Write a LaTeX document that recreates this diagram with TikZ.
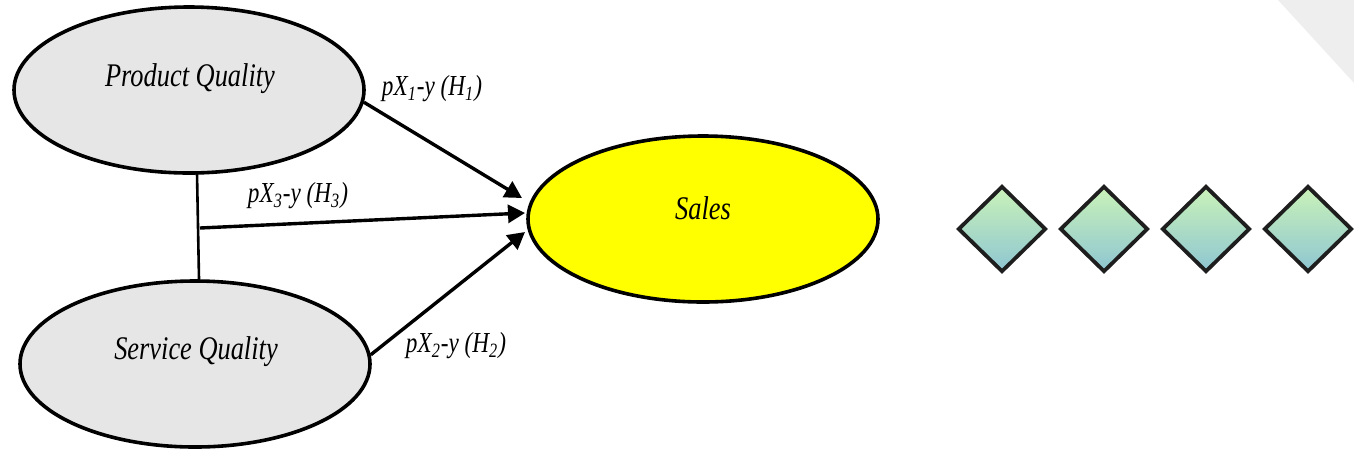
\documentclass[tikz,border=0pt]{standalone}
\usepackage{fontspec}
\setmainfont{Liberation Serif}
\newfontfamily\refit[FakeStretch=0.8]{Liberation Serif}
\usetikzlibrary{arrows.meta,shapes.geometric}
\definecolor{ovalgray}{HTML}{E6E6E6}
\definecolor{salesyellow}{HTML}{FFFF00}
\definecolor{cornergray}{HTML}{EEEEEE}
\definecolor{dmtop}{HTML}{CAF2B8}
\definecolor{dmbot}{HTML}{8EC6D2}
\definecolor{dmedge}{HTML}{1E1E1E}
\tikzset{
  oval/.style={ellipse, draw=black, line width=1.8pt, inner sep=0pt,
    minimum width=175pt, minimum height=83pt},
  ovaltext/.style={font=\refit\itshape\fontsize{16.5}{18}\selectfont, inner sep=0pt},
  pathlabel/.style={font=\refit\itshape\fontsize{14.5}{16}\selectfont, inner sep=0pt},
  conn/.style={line width=1.7pt, -{Triangle[length=8.5pt,width=9pt]}},
  gem/.style={diamond, draw=dmedge, line width=1.9pt, minimum width=44pt, minimum height=43pt,
    inner sep=0pt, top color=dmtop, bottom color=dmbot, shading angle=0},
}
\begin{document}
\begin{tikzpicture}[x=0.5pt,y=-0.5pt]
\useasboundingbox (0,0) rectangle (1354,452);
\fill[cornergray] (1278,0) -- (1354,0) -- (1354,83) -- cycle;
\node[oval, fill=ovalgray] (pq) at (189,90) {};
\node[ovaltext] (pqt) at (190,79) {Product Quality};
\node[oval, fill=ovalgray] (sq) at (195,364) {};
\node[ovaltext] (sqt) at (196,352) {Service Quality};
\node[oval, fill=salesyellow] (sa) at (703,219) {};
\node[ovaltext] (sat) at (703,208) {Sales};
\coordinate (vtop) at (197,173);
\coordinate (vbot) at (199,279);
\coordinate (hstart) at (200,228);
\coordinate (t1) at (522,198);
\coordinate (t3) at (525,213);
\coordinate (t2) at (525,232);
\draw[line width=1.3pt] (vtop) -- (vbot);
\draw[conn] (pq.-4) -- (t1);
\draw[conn] (hstart) -- (t3);
\draw[conn] (sq.3) -- (t2);
\node[pathlabel] (l1) at (432,89) {pX\textsubscript{1}-y (H\textsubscript{1})};
\node[pathlabel] (l3) at (298,196) {pX\textsubscript{3}-y (H\textsubscript{3})};
\node[pathlabel] (l2) at (456,346) {pX\textsubscript{2}-y (H\textsubscript{2})};
\node[gem] (g1) at (1002,229) {};
\node[gem] (g2) at (1104,229) {};
\node[gem] (g3) at (1206,229) {};
\node[gem] (g4) at (1308,229) {};
\end{tikzpicture}
\end{document}
